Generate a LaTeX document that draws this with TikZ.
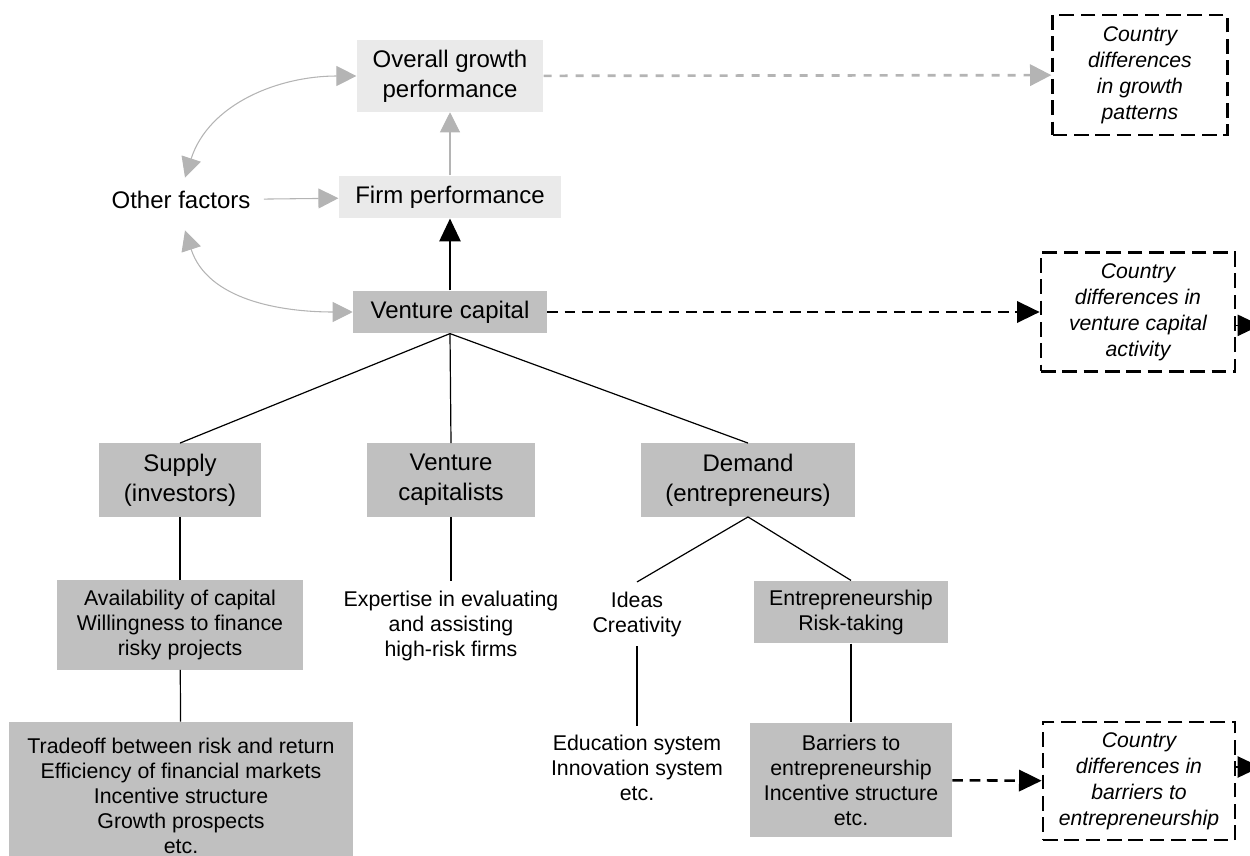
\documentclass[tikz,border=0pt]{standalone}
\usepackage{fontspec}
\setmainfont{Liberation Sans}
\usetikzlibrary{arrows.meta}
\definecolor{boxdark}{HTML}{C0C0C0}
\definecolor{boxlight}{HTML}{EAEAEA}
\definecolor{arrowgray}{HTML}{B4B4B4}
\begin{document}
\begin{tikzpicture}[x=0.75pt,y=-0.75pt,
  bigtext/.style={font=\fontsize{18pt}{22.5pt}\selectfont},
  smalltext/.style={font=\fontsize{16pt}{18.75pt}\selectfont},
  itext/.style={font=\fontsize{15.9pt}{19.5pt}\selectfont\itshape},
  darkbox/.style={fill=boxdark, align=center, inner sep=0pt},
  lightbox/.style={fill=boxlight, align=center, inner sep=0pt},
  cbox/.style={draw=black, line width=2pt, dash pattern=on 11pt off 5pt,
    align=center, inner sep=0pt, itext},
  plain/.style={align=center, inner sep=7pt},
  tree/.style={line width=0.9pt},
  grayarrow/.style={draw=arrowgray, line width=0.8pt,
    -{Triangle[length=15pt,width=15pt]}},
  graybi/.style={draw=arrowgray, line width=0.8pt,
    {Triangle[length=15pt,width=15pt]}-{Triangle[length=15pt,width=15pt]}},
  graydash/.style={draw=arrowgray, line width=2pt, dash pattern=on 6pt off 6pt,
    -{Triangle[length=16pt,width=16pt]}},
  blackarrow/.style={line width=0.9pt, -{Triangle[length=17pt,width=16pt]}},
  blackdash/.style={line width=1.9pt, dash pattern=on 8pt off 5pt,
    -{Triangle[length=17pt,width=16pt]}},
]
\useasboundingbox (0,0) rectangle (1250,856);

% upper chain
\node[lightbox, bigtext, minimum width=140pt, minimum height=54pt] (og) at (450,76)
  {Overall growth\\performance};
\node[lightbox, bigtext, minimum width=167pt, minimum height=32pt] (fp) at (450,197)
  {Firm performance};
\node[darkbox, bigtext, minimum width=145.5pt, minimum height=32pt] (vc) at (450,312)
  {Venture capital};
\node[plain, bigtext, inner sep=10pt] (of) at (181,200) {Other factors};

% country boxes
\node[cbox, minimum width=131pt, minimum height=90pt] (c1) at (1140,75)
  {Country\\differences\\in growth\\patterns};
\node[cbox, minimum width=145.5pt, minimum height=89pt] (c2) at (1138,312)
  {Country\\differences in\\venture capital\\activity};
\node[cbox, minimum width=144pt, minimum height=88.5pt] (c3) at (1139,781)
  {Country\\differences in\\barriers to\\entrepreneurship};

% second level
\node[darkbox, bigtext, minimum width=121pt, minimum height=55pt] (sup) at (180,480)
  {Supply\\(investors)};
\node[darkbox, bigtext, minimum width=126pt, minimum height=55pt] (vcs) at (451,480)
  {Venture\\capitalists};
\node[darkbox, bigtext, minimum width=161pt, minimum height=55pt] (dem) at (748,480)
  {Demand\\(entrepreneurs)};

% third level
\node[darkbox, smalltext, minimum width=184pt, minimum height=67pt] (av) at (180,625)
  {Availability of capital\\Willingness to finance\\risky projects};
\node[plain, smalltext] (exp) at (451,626)
  {Expertise in evaluating\\and assisting\\high-risk firms};
\node[plain, smalltext] (ideas) at (637,614) {Ideas\\Creativity};
\node[darkbox, smalltext, minimum width=145.5pt, minimum height=47pt] (ent) at (851,612)
  {Entrepreneurship\\Risk-taking};

% fourth level
\node[darkbox, smalltext, minimum width=258pt, minimum height=111pt] (tr) at (181,796)
  {Tradeoff between risk and return\\Efficiency of financial markets\\Incentive structure\\Growth prospects\\etc.};
\node[plain, smalltext] (edu) at (637,768)
  {Education system\\Innovation system\\etc.};
\node[darkbox, smalltext, minimum width=151.5pt, minimum height=86pt] (bar) at (851,780)
  {Barriers to\\entrepreneurship\\Incentive structure\\etc.};

% gray links
\draw[grayarrow] (fp) -- (og);
\draw[grayarrow] (of) -- (fp);
\draw[graybi] ([xshift=3pt]of.north) to[out=72,in=180] (og.west);
\draw[graybi] ([xshift=3pt,yshift=-6pt]of.south) to[out=-72,in=180] (vc.west);
\draw[graydash] (og) -- (c1);

% black links
\draw[blackarrow] (vc) -- (fp);
\draw[blackdash] (vc) -- (c2);
\draw[blackdash] (bar) -- (c3);
\draw[blackarrow] ([yshift=-10pt]c2.east) -- ++(24,0);
\draw[blackarrow] ([yshift=10.5pt]c3.east) -- ++(24,0);

% tree
\draw[tree] (vc.south) -- (sup.north);
\draw[tree] (vc.south) -- (vcs.north);
\draw[tree] (vc.south) -- (dem.north);
\draw[tree] (sup) -- (av);
\draw[tree] (av) -- (tr);
\draw[tree] (vcs) -- (exp);
\draw[tree] (dem.south) -- (ideas.north);
\draw[tree] (dem.south) -- (ent.north);
\draw[tree] (ideas) -- (edu);
\draw[tree] (ent) -- (bar);
\end{tikzpicture}
\end{document}
